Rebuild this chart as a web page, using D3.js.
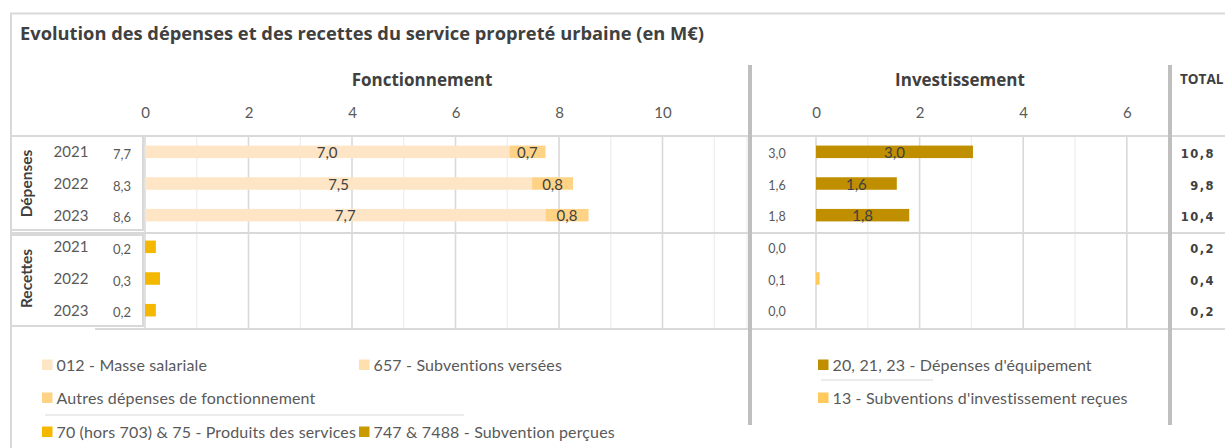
<!DOCTYPE html>
<html lang="fr">
<head>
<meta charset="utf-8">
<script src="https://cdn.jsdelivr.net/npm/d3@7/dist/d3.min.js"></script>
<style>
  html, body { margin: 0; padding: 0; background: #fff; }
  svg { display: block; }
  text { font-family: Lato, "Open Sans", sans-serif; fill: #595959; }
</style>
</head>
<body>
<svg id="chart" width="1225" height="448"></svg>
<script>
// Row structure
const groups = ["Dépenses", "Recettes"];
const years = ["2021", "2022", "2023"];

// Fonctionnement (M€) — dépenses
const masseSalariale = [7.04, 7.48, 7.74];
const subventionsVersees = [0, 0, 0];
const autresFonctionnement = [0.70, 0.79, 0.83];
// Fonctionnement (M€) — recettes
const produitsServices = [0.21, 0.29, 0.21];
const subventionPercues = [0, 0, 0];

// Investissement (M€)
const depensesEquipement = [3.03, 1.56, 1.80];
const subventionsInvestissement = [0.00, 0.07, 0.00];

const fonctTicks = [0, 2, 4, 6, 8, 10];
const investTicks = [0, 2, 4, 6];

const colors = {
  masse: "#fde5c6",
  subVersees: "#fedfae",
  autres: "#ffd385",
  produits: "#f5b800",
  subPercues: "#c99a00",
  equipement: "#bf8f00",
  subInvest: "#ffc95c"
};

const fr = d3.formatLocale({ decimal: ",", thousands: " ", grouping: [3], currency: ["", " €"] });
const f1 = fr.format(".1f");

const svg = d3.select("#chart");

// Rows: 3 dépenses rows then 3 recettes rows
const rows = [];
groups.forEach((g, gi) => years.forEach((yr, yi) => {
  const dep = gi === 0;
  const fonct = dep
    ? [{ k: "masse", v: masseSalariale[yi] }, { k: "subVersees", v: subventionsVersees[yi] }, { k: "autres", v: autresFonctionnement[yi] }]
    : [{ k: "produits", v: produitsServices[yi] }, { k: "subPercues", v: subventionPercues[yi] }];
  const invest = dep
    ? [{ k: "equipement", v: depensesEquipement[yi] }]
    : [{ k: "subInvest", v: subventionsInvestissement[yi] }];
  rows.push({ key: g + yr, group: g, year: yr, dep, fonct, invest });
}));
rows.forEach(r => {
  r.fonctSum = d3.sum(r.fonct, d => d.v);
  r.investSum = d3.sum(r.invest, d => d.v);
  r.total = r.fonctSum + r.investSum;
});

// Scales
const y = d3.scaleBand().domain(rows.map(r => r.key)).range([136, 326]);
const xF = d3.scaleLinear().domain([0, 11.6]).range([145, 145 + 11.6 * 51.75]);
const xI = d3.scaleLinear().domain([0, 6]).range([816, 816 + 6 * 51.8]);
const barH = 12.5;

// Outer frame
svg.append("path").attr("d", "M11,448 L11,13.5 L1225,13.5")
  .attr("fill", "none").attr("stroke", "#d9d9d9").attr("stroke-width", 2);

// Title
svg.append("text").attr("x", 20).attr("y", 40)
  .style("font-family", "'Open Sans', sans-serif")
  .style("font-size", "18.3px").style("font-weight", 700).style("fill", "#404040")
  .text("Evolution des dépenses et des recettes du service propreté urbaine (en M€)");

// Panel headers
const headStyle = sel => sel.style("font-family", "'Open Sans', sans-serif")
  .style("font-weight", 700).style("fill", "#404040");
svg.append("text").attr("x", 422).attr("y", 86).attr("text-anchor", "middle")
  .call(headStyle).style("font-size", "17px").text("Fonctionnement");
svg.append("text").attr("x", 960).attr("y", 86).attr("text-anchor", "middle")
  .call(headStyle).style("font-size", "17px").text("Investissement");
svg.append("text").attr("x", 1180).attr("y", 84)
  .call(headStyle).style("font-size", "13.5px").text("TOTAL");

// Gridlines
const gridTop = 136, gridBottom = 329;
function grid(x, maxV) {
  const vals = d3.range(0, maxV + 1);
  svg.append("g").selectAll("line").data(vals).join("line")
    .attr("x1", d => x(d)).attr("x2", d => x(d))
    .attr("y1", gridTop).attr("y2", gridBottom)
    .attr("stroke", d => d % 2 === 0 ? "#d9d9d9" : "#ededed")
    .attr("stroke-width", d => d % 2 === 0 ? 1.6 : 1.2);
}
grid(xF, 11);
grid(xI, 6);
svg.append("line").attr("x1", 747).attr("x2", 747).attr("y1", gridTop).attr("y2", gridBottom)
  .attr("stroke", "#ededed").attr("stroke-width", 1.2);

// Axes along the top
const axF = svg.append("g").attr("transform", "translate(0,118)")
  .call(d3.axisTop(xF).tickValues(fonctTicks).tickSize(0).tickPadding(0).tickFormat(d3.format("d")));
const axI = svg.append("g").attr("transform", "translate(0,118)")
  .call(d3.axisTop(xI).tickValues(investTicks).tickSize(0).tickPadding(0).tickFormat(d3.format("d")));
[axF, axI].forEach(a => {
  a.select(".domain").remove();
  a.selectAll("text").style("font-family", "Lato, sans-serif").style("font-size", "15px").style("fill", "#595959");
});

// Horizontal separators
[[136, 143, 1225], [233, 11, 1225], [329, 95, 1225]].forEach(([yy, x1, x2]) => {
  svg.append("line").attr("x1", x1).attr("x2", x2).attr("y1", yy).attr("y2", yy)
    .attr("stroke", "#d9d9d9").attr("stroke-width", 2);
});

// Category label boxes on the left
const boxes = [[136, 230], [235, 326]];
boxes.forEach(([t, b]) => {
  svg.append("rect").attr("x", 11).attr("y", t).attr("width", 132).attr("height", b - t)
    .attr("fill", "#fff").attr("stroke", "#d9d9d9").attr("stroke-width", 2);
});
groups.forEach(g => {
  const grpRows = rows.filter(r => r.group === g);
  const cy = (y(grpRows[0].key) + y(grpRows[2].key) + y.bandwidth()) / 2;
  svg.append("text")
    .attr("transform", `translate(32,${cy}) rotate(-90)`)
    .attr("text-anchor", "middle")
    .style("font-size", "15.5px").style("font-weight", 700).style("fill", "#404040")
    .text(g);
});

const rowG = svg.append("g").selectAll("g").data(rows).join("g")
  .attr("transform", d => `translate(0,${y(d.key) + y.bandwidth() / 2})`);

// Year labels
rowG.append("text").attr("x", 71).attr("y", 5.5).attr("text-anchor", "middle")
  .style("font-size", "15px").text(d => d.year);
// Row sums for fonctionnement
rowG.append("text").attr("x", 122).attr("y", 7).attr("text-anchor", "middle")
  .style("font-size", "13px").text(d => f1(d.fonctSum));
// Row sums for investissement
rowG.append("text").attr("x", 777).attr("y", 6).attr("text-anchor", "middle")
  .style("font-size", "12.5px").text(d => f1(d.investSum));
// Totals
rowG.append("text").attr("x", 1215).attr("y", 6).attr("text-anchor", "end")
  .style("font-family", "'DejaVu Sans', sans-serif")
  .style("font-size", "11.5px").style("font-weight", 700).style("letter-spacing", "1.5px")
  .style("fill", "#404040")
  .text(d => f1(d.total));

// Stacked bars
function stackSegs(list) {
  let acc = 0;
  return list.map(s => { const o = { ...s, x0: acc, x1: acc + s.v }; acc += s.v; return o; });
}
rowG.each(function (r) {
  const g = d3.select(this);
  const fs = stackSegs(r.fonct).filter(s => s.v > 0);
  g.selectAll("rect.f").data(fs).join("rect").attr("class", "f")
    .attr("x", s => xF(s.x0)).attr("width", s => xF(s.x1) - xF(s.x0))
    .attr("y", -barH / 2).attr("height", barH).attr("fill", s => colors[s.k]);
  const is = stackSegs(r.invest).filter(s => s.v > 0);
  g.selectAll("rect.i").data(is).join("rect").attr("class", "i")
    .attr("x", s => xI(s.x0)).attr("width", s => xI(s.x1) - xI(s.x0))
    .attr("y", -barH / 2).attr("height", barH).attr("fill", s => colors[s.k]);
  if (r.dep) {
    g.selectAll("text.fl").data(fs).join("text").attr("class", "fl")
      .attr("x", s => (xF(s.x0) + xF(s.x1)) / 2).attr("y", 6).attr("text-anchor", "middle")
      .style("font-size", "15px").style("fill", "#404040").text(s => f1(s.v));
    g.selectAll("text.il").data(is).join("text").attr("class", "il")
      .attr("x", s => (xI(s.x0) + xI(s.x1)) / 2).attr("y", 6).attr("text-anchor", "middle")
      .style("font-size", "15px").style("fill", "#404040").text(s => f1(s.v));
  }
});

// Thick panel separators
[750, 1170].forEach(x => {
  svg.append("line").attr("x1", x).attr("x2", x).attr("y1", 65).attr("y2", 425)
    .attr("stroke", "#bfbfbf").attr("stroke-width", 4);
});

// Legends
const legendItems = [
  { name: "012 - Masse salariale", color: colors.masse, col: 0, row: 0 },
  { name: "657 - Subventions versées", color: colors.subVersees, col: 1, row: 0 },
  { name: "Autres dépenses de fonctionnement", color: colors.autres, col: 0, row: 1 },
  { name: "70 (hors 703) & 75 - Produits des services", color: colors.produits, col: 0, row: 2 },
  { name: "747 & 7488 - Subvention perçues", color: colors.subPercues, col: 1, row: 2 },
  { name: "20, 21, 23 - Dépenses d'équipement", color: colors.equipement, col: 2, row: 0 },
  { name: "13 - Subventions d'investissement reçues", color: colors.subInvest, col: 2, row: 1 }
];
const colX = [42, 359, 818];
const rowY = [365, 398, 432];
const lg = svg.append("g").selectAll("g").data(legendItems).join("g")
  .attr("transform", d => `translate(${colX[d.col]},${rowY[d.row]})`);
lg.append("rect").attr("x", 0).attr("y", -5.5).attr("width", 10.5).attr("height", 10.5).attr("fill", d => d.color);
lg.append("text").attr("x", 14.5).attr("y", 6)
  .style("font-size", "16px").style("letter-spacing", "0.15px").text(d => d.name);

// Thin dividers inside the legends
svg.append("line").attr("x1", 45).attr("x2", 464).attr("y1", 415).attr("y2", 415)
  .attr("stroke", "#e6e6e6").attr("stroke-width", 1.5);
svg.append("line").attr("x1", 821).attr("x2", 933).attr("y1", 380).attr("y2", 380)
  .attr("stroke", "#e6e6e6").attr("stroke-width", 1.5);
</script>
</body>
</html>
